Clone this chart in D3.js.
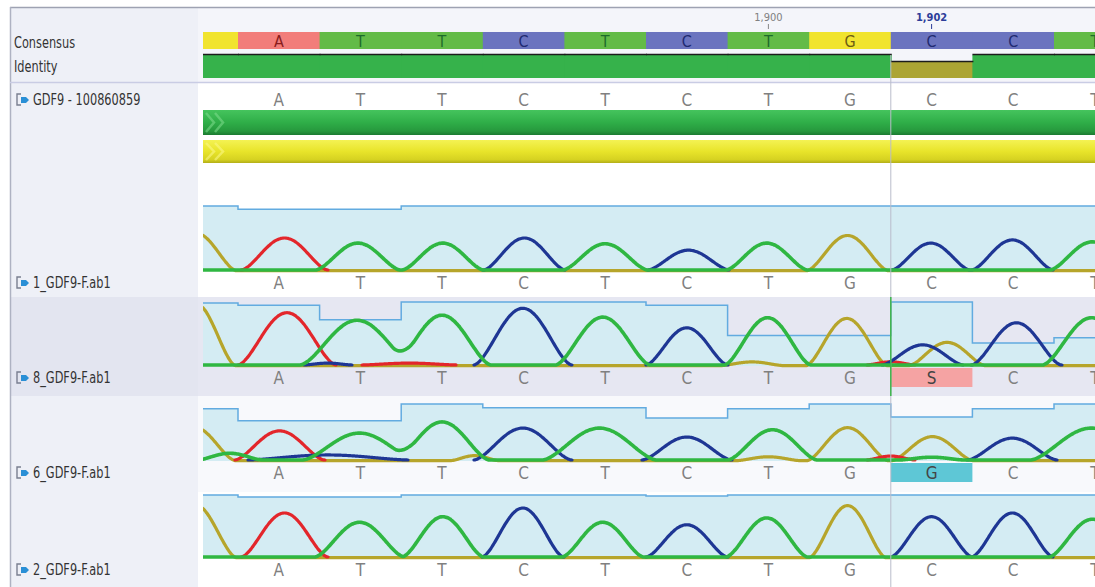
<!DOCTYPE html>
<html>
<head>
<meta charset="utf-8">
<script src="https://cdn.jsdelivr.net/npm/d3@7"></script>
<style>
  body { margin: 0; background: #fff; }
  svg text { font-family: 'Liberation Sans Narrow', 'DejaVu Sans Condensed', 'Open Sans', sans-serif; }
</style>
</head>
<body>
<script>
// alignment columns and calls
const positions = [1893, 1894, 1895, 1896, 1897, 1898, 1899, 1900, 1901, 1902, 1903, 1904];
const consensus = ['G', 'A', 'T', 'T', 'C', 'T', 'C', 'T', 'G', 'C', 'C', 'T'];
const identity = [100, 100, 100, 100, 100, 100, 100, 100, 100, 70, 100, 100];
const refName = 'GDF9 - 100860859';
const rulerTicks = [1900, 1902];
const selectedPos = 1902;

const trackNames = ['1_GDF9-F.ab1', '8_GDF9-F.ab1', '6_GDF9-F.ab1', '2_GDF9-F.ab1'];
const calls1 = ['G', 'A', 'T', 'T', 'C', 'T', 'C', 'T', 'G', 'C', 'C', 'T'];
const calls2 = ['G', 'A', 'T', 'T', 'C', 'T', 'C', 'T', 'G', 'S', 'C', 'T'];
const calls3 = ['G', 'A', 'T', 'T', 'C', 'T', 'C', 'T', 'G', 'G', 'C', 'T'];
const calls4 = ['G', 'A', 'T', 'T', 'C', 'T', 'C', 'T', 'G', 'C', 'C', 'T'];

// per-base quality (phred-like)
const quality1 = [60, 57, 57, 60, 60, 60, 60, 60, 60, 60, 60, 60];
const quality2 = [59, 57, 43, 60, 60, 60, 57, 28, 28, 60, 21, 26];
const quality3 = [55, 42, 42, 60, 56, 56, 45, 55, 60, 46, 55, 60];
const quality4 = [60, 58, 58, 60, 60, 60, 59, 60, 60, 60, 60, 60];

// trace peaks: [channel, position, height (% of track), half width (columns)]
const peaks1 = [
  ['G', 1892.98, 59, 0.5], ['A', 1894.07, 50, 0.53], ['T', 1894.97, 42, 0.52],
  ['T', 1896.01, 42, 0.5], ['C', 1897.01, 50, 0.5], ['T', 1898.0, 41, 0.52],
  ['C', 1899.02, 31, 0.5], ['T', 1899.98, 42, 0.5], ['G', 1900.97, 55, 0.5],
  ['C', 1901.99, 42, 0.48], ['C', 1902.99, 47, 0.5], ['T', 1903.97, 44, 0.52]
];
const peaks2 = [
  ['G', 1892.97, 100, 0.5], ['A', 1894.1, 83, 0.6], ['C', 1894.6, 3, 0.3],
  ['T', 1894.96, 71, 0.7], ['A', 1895.6, 3, 0.6], ['T', 1896.0, 79, 0.6],
  ['C', 1896.99, 90, 0.6], ['T', 1897.97, 76, 0.58], ['C', 1899.0, 59, 0.5],
  ['G', 1899.8, 6, 0.4], ['T', 1899.99, 75, 0.53], ['G', 1900.96, 75, 0.5],
  ['A', 1901.5, 5, 0.3], ['C', 1901.89, 32, 0.5], ['G', 1902.19, 37, 0.47],
  ['C', 1903.04, 67, 0.55], ['T', 1903.96, 75, 0.6]
];
const peaks3 = [
  ['G', 1892.95, 61, 0.52], ['T', 1893.4, 12, 0.4], ['A', 1894.01, 52, 0.55],
  ['C', 1894.6, 9, 1.0], ['T', 1894.99, 48, 0.7], ['T', 1896.0, 68, 0.58],
  ['G', 1896.4, 9, 0.3], ['C', 1896.99, 57, 0.6], ['T', 1897.93, 57, 0.7],
  ['C', 1899.0, 41, 0.55], ['G', 1900.0, 7, 0.4], ['T', 1900.05, 54, 0.55],
  ['G', 1900.97, 59, 0.5], ['A', 1901.5, 7, 0.3], ['G', 1902.01, 43, 0.5],
  ['T', 1902.0, 5, 0.4], ['C', 1902.99, 39, 0.55], ['T', 1903.96, 57, 0.75]
];
const peaks4 = [
  ['G', 1892.96, 87, 0.52], ['A', 1894.07, 71, 0.53], ['T', 1894.99, 56, 0.55],
  ['T', 1896.01, 65, 0.5], ['C', 1896.99, 79, 0.5], ['T', 1897.97, 56, 0.5],
  ['C', 1899.0, 52, 0.5], ['T', 1899.98, 63, 0.5], ['G', 1900.97, 84, 0.47],
  ['C', 1902.0, 65, 0.5], ['C', 1902.99, 71, 0.5], ['T', 1903.97, 61, 0.53]
];

const allCalls = [calls1, calls2, calls3, calls4];
const allQuality = [quality1, quality2, quality3, quality4];
const allPeaks = [peaks1, peaks2, peaks3, peaks4];

// layout
const W = 1095, H = 587;
const plotLeft = 203, plotRight = 1095;
const tracks = [
  { rowTop: 200, rowBottom: 297, top: 206, base: 270, bg: '#ffffff', leftBg: '#eef0f7' },
  { rowTop: 297, rowBottom: 396, top: 302, base: 365, bg: '#e6e7f2', leftBg: '#e3e5f0' },
  { rowTop: 396, rowBottom: 492, top: 404, base: 460, bg: '#f8f9fc', leftBg: '#eef0f7' },
  { rowTop: 492, rowBottom: 587, top: 495, base: 557, bg: '#ffffff', leftBg: '#eef0f7' }
];

const baseFill = { A: '#f27d7a', T: '#63bb47', C: '#6b74bf', G: '#f1e42e' };
const baseText = { A: '#8a1c1c', T: '#1d6b2b', C: '#1f2a70', G: '#6e5c12' };
const traceColor = { G: '#b6a52b', A: '#e3262b', C: '#1e3694', T: '#2fb742' };
const callBox = { S: '#f5a3a3', G: '#5ec7d6' };

const x = d3.scaleLinear().domain([1893.5, 1904.5]).range([238, 238 + 11 * 81.6]);
const colW = x(1) - x(0);

const svg = d3.select('body').append('svg')
  .attr('width', W).attr('height', H);

const defs = svg.append('defs');
defs.append('clipPath').attr('id', 'plotClip')
  .append('rect').attr('x', plotLeft).attr('y', 0).attr('width', plotRight - plotLeft).attr('height', H);

function grad(id, stops) {
  const g = defs.append('linearGradient').attr('id', id)
    .attr('x1', 0).attr('y1', 0).attr('x2', 0).attr('y2', 1);
  stops.forEach(s => g.append('stop').attr('offset', s[0]).attr('stop-color', s[1]));
}
grad('greenBar', [[0, '#45c45d'], [0.5, '#2fae48'], [0.85, '#26983d'], [1, '#1b7a31']]);
grad('yellowBar', [[0, '#f4f253'], [0.5, '#e8e42a'], [0.85, '#d6d221'], [1, '#b3ae18']]);

// backgrounds
svg.append('rect').attr('x', 10).attr('y', 7).attr('width', W - 10).attr('height', H - 7).attr('fill', '#ffffff');
svg.append('rect').attr('x', 10).attr('y', 7).attr('width', 188).attr('height', H - 7).attr('fill', '#eef0f7');
svg.append('rect').attr('x', 198).attr('y', 8).attr('width', W - 198).attr('height', 74).attr('fill', '#f4f5fa');

tracks.forEach(t => {
  svg.append('rect').attr('x', 198).attr('y', t.rowTop).attr('width', W - 198)
    .attr('height', t.rowBottom - t.rowTop).attr('fill', t.bg);
  svg.append('rect').attr('x', 10).attr('y', t.rowTop).attr('width', 188)
    .attr('height', t.rowBottom - t.rowTop).attr('fill', t.leftBg);
});

// frame lines
svg.append('line').attr('x1', 10).attr('x2', W).attr('y1', 7.5).attr('y2', 7.5)
  .attr('stroke', '#9ea2b2').attr('stroke-width', 1.5);
svg.append('line').attr('x1', 10.5).attr('x2', 10.5).attr('y1', 7).attr('y2', H)
  .attr('stroke', '#aeb2c2').attr('stroke-width', 1.5);
svg.append('line').attr('x1', 10).attr('x2', W).attr('y1', 82.5).attr('y2', 82.5)
  .attr('stroke', '#c9cce4').attr('stroke-width', 1.5);

const plot = svg.append('g').attr('clip-path', 'url(#plotClip)');

// ruler
rulerTicks.forEach(p => {
  const sel = p === selectedPos;
  plot.append('line').attr('x1', x(p)).attr('x2', x(p)).attr('y1', 24).attr('y2', 29)
    .attr('stroke', sel ? '#2d3d99' : '#888').attr('stroke-width', 1);
  plot.append('text').attr('x', x(p)).attr('y', 21).attr('text-anchor', 'middle')
    .attr('font-size', 11).attr('font-weight', sel ? 'bold' : 'normal')
    .attr('fill', sel ? '#2d3d99' : '#808080').text(d3.format(',')(p));
});

// consensus
const cons = plot.append('g');
cons.selectAll('rect').data(positions).join('rect')
  .attr('x', d => x(d - 0.5)).attr('y', 32).attr('width', colW + 1).attr('height', 17)
  .attr('fill', (d, i) => baseFill[consensus[i]]);
cons.selectAll('text').data(positions).join('text')
  .attr('x', d => x(d)).attr('y', 47).attr('text-anchor', 'middle')
  .attr('font-size', 16).attr('fill', (d, i) => baseText[consensus[i]])
  .text((d, i) => consensus[i]);

// identity
const idY = d3.scaleLinear().domain([0, 100]).range([78, 55]);
const idG = plot.append('g');
idG.selectAll('rect').data(positions).join('rect')
  .attr('x', d => x(d - 0.5)).attr('width', colW + 1)
  .attr('y', (d, i) => idY(identity[i])).attr('height', (d, i) => 78 - idY(identity[i]))
  .attr('fill', (d, i) => identity[i] === 100 ? '#36b24b' : '#aca534');
idG.selectAll('line').data(positions).join('line')
  .attr('x1', d => x(d - 0.5)).attr('x2', d => x(d + 0.5) + 1)
  .attr('y1', (d, i) => idY(identity[i]) - 0.5).attr('y2', (d, i) => idY(identity[i]) - 0.5)
  .attr('stroke', '#1c1c1c').attr('stroke-width', 1.5);

// reference row
plot.append('g').selectAll('text').data(positions).join('text')
  .attr('x', d => x(d)).attr('y', 106).attr('text-anchor', 'middle')
  .attr('font-size', 17).attr('fill', '#808080').text((d, i) => consensus[i]);

function annBar(y, h, fillId, chevron) {
  plot.append('rect').attr('x', plotLeft).attr('y', y).attr('width', plotRight - plotLeft)
    .attr('height', h).attr('fill', `url(#${fillId})`);
  [0, 9].forEach(dx => {
    plot.append('path')
      .attr('d', `M${plotLeft + 3 + dx},${y + 3} L${plotLeft + 11 + dx},${y + h / 2} L${plotLeft + 3 + dx},${y + h - 3}`)
      .attr('fill', 'none').attr('stroke', chevron).attr('stroke-width', 2.5).attr('opacity', 0.55);
  });
}
annBar(110, 25, 'greenBar', '#7fdc8e');
annBar(140, 23, 'yellowBar', '#fbf88a');

// chromatogram tracks
const channels = ['G', 'A', 'C', 'T'];
const fullBaseline = { G: true, A: false, C: false, T: true };
const samples = d3.range(plotLeft, plotRight + 1, 1);

tracks.forEach((t, ti) => {
  const g = plot.append('g');
  const qy = d3.scaleLinear().domain([0, 60]).range([t.base, t.top]);
  const ay = d3.scaleLinear().domain([0, 100]).range([t.base, t.top]);
  const q = allQuality[ti];

  const qPts = [];
  positions.forEach((p, i) => {
    qPts.push([x(p - 0.5), q[i]]);
    qPts.push([x(p + 0.5), q[i]]);
  });
  g.append('path').datum(qPts)
    .attr('d', d3.area().x(d => d[0]).y0(t.base + 1).y1(d => qy(d[1])))
    .attr('fill', '#d4ecf3');
  g.append('path').datum(qPts)
    .attr('d', d3.line().x(d => d[0]).y(d => qy(d[1])))
    .attr('fill', 'none').attr('stroke', '#62abe0').attr('stroke-width', 1.5);

  const peaks = allPeaks[ti];
  channels.forEach(ch => {
    const chPeaks = peaks.filter(p => p[0] === ch);
    const amp = samples.map(px => {
      const pos = x.invert(px);
      let a = 0;
      chPeaks.forEach(p => {
        const d = Math.abs(pos - p[1]);
        if (d < p[3]) a += p[2] * Math.pow((1 + Math.cos(Math.PI * d / p[3])) / 2, 0.8);
      });
      return a;
    });
    const pts = samples.map((px, i) => ({
      x: px,
      y: ay(amp[i]) + (ch === 'G' ? 0.7 : 0),
      on: fullBaseline[ch] || amp[i] > 0.05 ||
        (i > 0 && amp[i - 1] > 0.05) || (i < amp.length - 1 && amp[i + 1] > 0.05)
    }));
    g.append('path').datum(pts)
      .attr('d', d3.line().defined(d => d.on).x(d => d.x).y(d => d.y).curve(d3.curveMonotoneX))
      .attr('fill', 'none').attr('stroke', traceColor[ch])
      .attr('stroke-width', ch === 'T' ? 3.6 : 3.2)
      .attr('stroke-linejoin', 'round').attr('stroke-linecap', 'round');
  });

  const calls = allCalls[ti];
  positions.forEach((p, i) => {
    if (callBox[calls[i]] && calls[i] !== consensus[i]) {
      g.append('rect').attr('x', x(p - 0.5)).attr('y', t.base + 3)
        .attr('width', colW).attr('height', 19).attr('fill', callBox[calls[i]]);
    }
  });
  g.selectAll('text.call').data(positions).join('text').attr('class', 'call')
    .attr('x', d => x(d)).attr('y', t.base + 19).attr('text-anchor', 'middle')
    .attr('font-size', 17)
    .attr('fill', (d, i) => calls[i] !== consensus[i] ? '#444' : '#808080')
    .text((d, i) => calls[i]);
});

// selected column cursor
plot.append('line').attr('x1', x(selectedPos - 0.5)).attr('x2', x(selectedPos - 0.5))
  .attr('y1', 55).attr('y2', H).attr('stroke', '#b9bdca').attr('stroke-width', 1);
plot.append('line').attr('x1', x(selectedPos - 0.5)).attr('x2', x(selectedPos - 0.5))
  .attr('y1', tracks[1].rowTop).attr('y2', tracks[1].rowBottom)
  .attr('stroke', '#3cb44b').attr('stroke-width', 1.5);

// left labels (narrow, as in the screenshot)
function label(xp, yp, str) {
  svg.append('text').attr('transform', `translate(${xp},${yp}) scale(0.84,1)`)
    .attr('font-size', 15).attr('fill', '#333').text(str);
}
label(14, 48, 'Consensus');
label(14, 72, 'Identity');

function seqIcon(y) {
  svg.append('path').attr('d', `M21,${y - 6} L17,${y - 6} L17,${y + 5} L21,${y + 5}`)
    .attr('fill', 'none').attr('stroke', '#7a7f90').attr('stroke-width', 1.4);
  svg.append('path').attr('d', `M21,${y - 3} L26,${y - 3} L29,${y} L26,${y + 3} L21,${y + 3} Z`)
    .attr('fill', '#2a8fd6');
}
const labelYs = [100].concat(tracks.map(t => t.base + 13));
[refName].concat(trackNames).forEach((name, i) => {
  seqIcon(labelYs[i]);
  label(33, labelYs[i] + 5, name);
});
</script>
</body>
</html>
